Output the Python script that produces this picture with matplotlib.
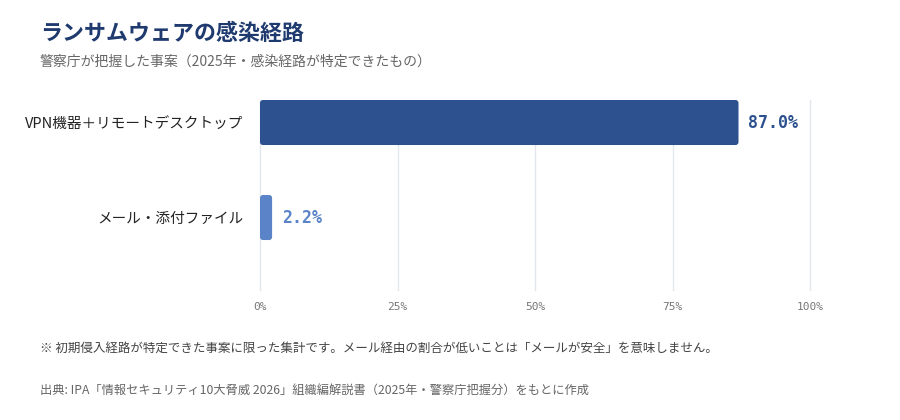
import matplotlib
matplotlib.use("Agg")
import matplotlib.pyplot as plt
from matplotlib.patches import FancyBboxPatch

plt.rcParams['font.family'] = ['Noto Sans CJK JP', 'DejaVu Sans']

# データ
categories = ["VPN機器＋リモートデスクトップ", "メール・添付ファイル"]
values = [87.0, 2.2]
value_labels = ["87.0%", "2.2%"]
bar_colors = ["#2d518f", "#5b84c8"]
xticks = [0, 25, 50, 75, 100]
xtick_labels = ["0%", "25%", "50%", "75%", "100%"]

title = "ランサムウェアの感染経路"
subtitle = "警察庁が把握した事案（2025年・感染経路が特定できたもの）"
note = "※ 初期侵入経路が特定できた事案に限った集計です。メール経由の割合が低いことは「メールが安全」を意味しません。"
source = "出典: IPA「情報セキュリティ10大脅威 2026」組織編解説書（2025年・警察庁把握分）をもとに作成"

fig = plt.figure(figsize=(9, 4.2), dpi=100)
ax = fig.add_axes([260 / 900, 130 / 420, 550 / 900, 190 / 420])

ypos = list(range(len(categories)))
bars = ax.barh(ypos, values, height=0.474, color=bar_colors)

ax.set_xlim(0, 100)
ax.set_ylim(1.763, -0.237)

# 角丸のバーに置き換え
px_x = 550 / 100
px_y = 190 / 2.0
for b, c in zip(bars, bar_colors):
    x0, y0 = b.get_x(), b.get_y()
    w, h = b.get_width(), b.get_height()
    b.set_visible(False)
    r = 3 / px_x
    p = FancyBboxPatch((x0, y0), w, h,
                       boxstyle="round,pad=0,rounding_size=%f" % r,
                       mutation_aspect=px_x / px_y,
                       facecolor=c, edgecolor="none", zorder=3)
    ax.add_patch(p)

for y, v, lab, c in zip(ypos, values, value_labels, bar_colors):
    ax.text(v + 1.8, y, lab, va="center", ha="left", fontsize=12,
            fontweight="bold", color=c, family="DejaVu Sans Mono")

ax.set_xticks(xticks)
ax.set_xticklabels(xtick_labels, family="DejaVu Sans Mono", fontsize=8, color="#777777")
ax.set_yticks(ypos)
ax.set_yticklabels(categories, fontsize=10.5, color="#222222")
ax.tick_params(axis="x", length=0, pad=9)
ax.tick_params(axis="y", length=0, pad=12)
ax.grid(axis="x", color="#e3e6ee", linewidth=1)
for gl in ax.get_xgridlines():
    gl.set_clip_on(False)
ax.set_axisbelow(True)
for s in ax.spines.values():
    s.set_visible(False)

fig.text(40 / 900, 1 - 33 / 420, title, fontsize=15.8, fontweight="bold",
         color="#1f3a6e", va="center", ha="left")
fig.text(40 / 900, 1 - 62 / 420, subtitle, fontsize=10, color="#666666",
         va="center", ha="left")
fig.text(40 / 900, 1 - 348 / 420, note, fontsize=9, color="#444444",
         va="center", ha="left")
fig.text(40 / 900, 1 - 390 / 420, source, fontsize=8.8, color="#666666",
         va="center", ha="left")

fig.savefig("out.png", dpi=100, facecolor="white")
